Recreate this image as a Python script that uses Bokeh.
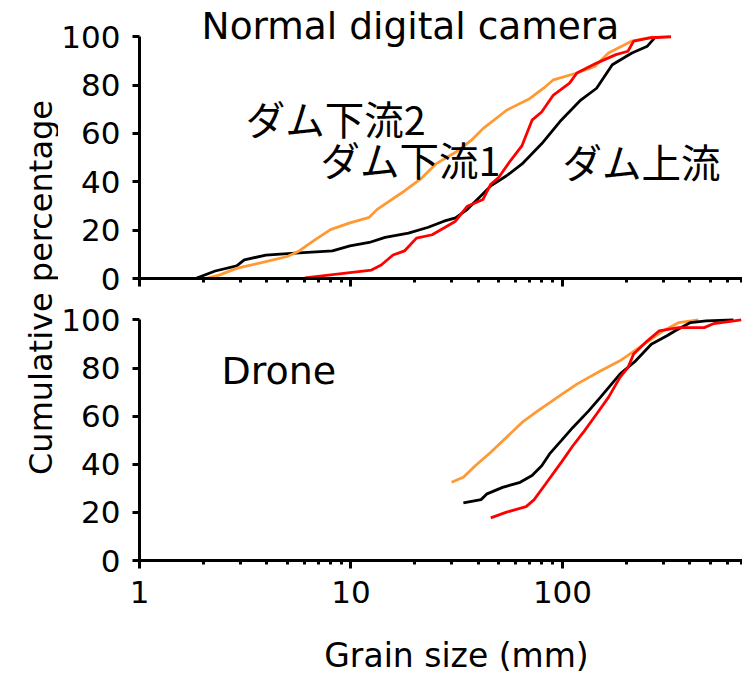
import math
from bokeh.plotting import figure
from bokeh.layouts import row, column
from bokeh.models import Range1d, FixedTicker, Label, BasicTickFormatter, CustomLabelingPolicy
from bokeh.embed import file_html
from bokeh.resources import INLINE

# ---- data ----
X_TICKS = [1, 10, 100]
X_MINOR = [2, 3, 4, 5, 6, 7, 8, 9, 20, 30, 40, 50, 60, 70, 80, 90, 200, 300, 400, 500, 600, 700]
Y_TICKS = [0, 20, 40, 60, 80, 100]

# Normal digital camera
cam_up_x = [1.84, 2.28, 2.88, 3.13, 3.96, 5.22, 8.17, 9.89, 12.2, 14.5, 18.7, 23.2, 27.5, 31.2, 35.5,
            40.3, 45.8, 54.4, 64.4, 79.7, 98.6, 122, 145, 172, 213, 252, 269, 274]
cam_up_y = [0, 3.1, 5.2, 7.7, 9.7, 10.4, 11.4, 13.5, 14.9, 17.0, 18.8, 21.2, 23.7, 25.1, 28.6,
            33.4, 38.3, 42.5, 47.4, 55.7, 65.5, 73.8, 78.7, 88.4, 93.3, 96.1, 98.9, 100]

cam_dn2_x = [2.05, 2.38, 2.88, 4.05, 5.0, 5.69, 6.75, 8.0, 9.89, 12.2, 13.3, 17.9, 21.3, 25.2, 31.2,
             37.0, 42.1, 54.4, 70.2, 83.2, 90.6, 117, 142, 165, 213, 269]
cam_dn2_y = [0, 1.4, 4.2, 7.2, 9.1, 11.4, 16.0, 20.2, 23.0, 25.3, 28.6, 36.2, 41.1, 47.4, 52.2,
             57.1, 62.0, 69.6, 74.5, 79.4, 82.2, 85.0, 87.7, 93.3, 98.2, 100]

cam_dn1_x = [6.06, 12.5, 13.9, 15.8, 17.9, 20.4, 24.2, 27.5, 31.2, 35.5, 42.1, 45.8, 49.9, 56.7, 64.4,
             71.8, 79.7, 90.6, 108, 117, 145, 179, 204, 217, 263, 326]
cam_dn1_y = [0.3, 3.5, 5.6, 9.7, 11.4, 16.7, 18.1, 20.9, 23.7, 29.9, 32.7, 39.0, 41.8, 48.7, 55.0,
             65.5, 68.9, 75.9, 80.8, 85.0, 89.1, 92.6, 94.0, 98.2, 99.6, 100]

# Drone
dr_dn2_x = [29.9, 34.0, 38.7, 45.8, 54.4, 64.4, 76.4, 94.6, 117, 151, 187, 213, 263, 299, 355, 439]
dr_dn2_y = [32.5, 34.6, 39.4, 45.0, 51.2, 57.4, 62.2, 67.8, 73.3, 78.8, 83.0, 86.4, 92.0, 95.4, 98.9, 100]

dr_up_x = [34.0, 41.2, 44.0, 52.1, 63.1, 71.8, 79.8, 86.9, 98.7, 112, 133, 151, 187, 222, 263, 312,
           340, 403, 478, 643]
dr_up_y = [23.9, 25.3, 27.7, 30.4, 32.5, 35.3, 39.4, 44.3, 49.8, 55.3, 62.2, 67.8, 77.5, 83.0, 89.9,
           93.4, 95.4, 98.9, 99.6, 100]

dr_dn1_x = [45.8, 54.4, 67.3, 73.3, 83.2, 98.7, 112, 127, 145, 165, 187, 204, 217, 252, 286, 354,
            468, 520, 700]
dr_dn1_y = [17.7, 20.1, 22.4, 25.2, 31.8, 40.8, 47.7, 53.9, 60.9, 67.8, 76.1, 80.2, 85.8, 91.3, 95.4,
            96.8, 96.8, 98.5, 100]

BLACK = "#000000"
RED = "#FF0000"
ORANGE = "#FF9933"
FONT = "DejaVu Sans"
JFONT = "Noto Sans CJK JP"
LW = 2.8


def style(p):
    p.outline_line_color = None
    p.grid.visible = False
    p.background_fill_color = "white"
    p.border_fill_color = "white"


def panel(height, y_end, top, bottom, show_labels):
    p = figure(x_axis_type="log", x_range=Range1d(1, 710), y_range=Range1d(0, y_end),
               width=684, height=height, min_border_left=81, min_border_right=0,
               min_border_top=top, min_border_bottom=bottom,
               output_backend="svg", toolbar_location=None)
    style(p)

    ya = p.yaxis[0]
    ya.ticker = FixedTicker(ticks=Y_TICKS)
    ya.bounds = (0, 100)
    ya.axis_line_width = 3
    ya.major_tick_line_width = 3
    ya.major_tick_out = 7
    ya.major_tick_in = 0
    ya.minor_tick_line_color = None
    ya.major_label_text_font = FONT
    ya.major_label_text_font_size = "31px"
    ya.major_label_text_color = "black"
    ya.major_label_standoff = 12

    xa = p.xaxis[0]
    xa.ticker = FixedTicker(ticks=X_TICKS, minor_ticks=X_MINOR)
    xa.formatter = BasicTickFormatter()
    xa.axis_line_width = 3
    xa.major_tick_line_width = 3
    xa.major_tick_out = 8
    xa.major_tick_in = 0
    xa.minor_tick_line_width = 3
    xa.minor_tick_out = 4
    xa.minor_tick_in = 0
    xa.major_label_text_font = FONT
    xa.major_label_text_color = "black"
    if show_labels:
        xa.major_label_text_font_size = "31px"
        xa.major_label_standoff = 12
    else:
        xa.major_label_text_font_size = "1px"
        xa.major_label_standoff = 0
        xa.major_label_policy = CustomLabelingPolicy(
            code="for (const i of indices) { indices.unset(i) }\nreturn indices")
    return p


def note(x, y, text, font, size):
    return Label(x=x, y=y, text=text, text_font=font, text_font_size=size,
                 text_align="left", text_baseline="middle", text_color="black")


# top panel: frame spans page y 0..278, y=100 at the axis top
top = panel(300, 115, 0, 22, False)
top.line(cam_up_x, cam_up_y, line_color=BLACK, line_width=LW)
top.line(cam_dn2_x, cam_dn2_y, line_color=ORANGE, line_width=LW)
top.line(cam_dn1_x, cam_dn1_y, line_color=RED, line_width=LW)
top.add_layout(Label(x=19.1, y=104.5, text="Normal digital camera", text_font=FONT,
                     text_font_size="37.5px", text_align="center", text_baseline="middle",
                     text_color="black"))
top.add_layout(note(3.18, 66.6, "ダム下流2", JFONT, "39.5px"))
top.add_layout(note(7.18, 49.6, "ダム下流1", JFONT, "39.5px"))
top.add_layout(note(100, 49.0, "ダム上流", JFONT, "39.5px"))

bot = panel(320, 101, 17, 60, True)
bot.line(dr_dn2_x, dr_dn2_y, line_color=ORANGE, line_width=LW)
bot.line(dr_up_x, dr_up_y, line_color=BLACK, line_width=LW)
bot.line(dr_dn1_x, dr_dn1_y, line_color=RED, line_width=LW)
bot.add_layout(note(2.44, 78.8, "Drone", FONT, "38px"))

# strip below the panels for the x-axis title (frame aligned with the panels' frames)
xlab = figure(width=684, height=57, x_range=Range1d(0, 603), y_range=Range1d(0, 57),
              min_border_left=81, min_border_right=0, min_border_top=0, min_border_bottom=0,
              x_axis_location=None, y_axis_location=None,
              output_backend="svg", toolbar_location=None)
style(xlab)
xlab.add_layout(Label(x=317, y=22.5, text="Grain size (mm)", text_font=FONT,
                      text_font_size="33px", text_align="center", text_baseline="middle",
                      text_color="black"))

# strip at the left for the shared y-axis title
ylab = figure(width=58, height=677, x_range=Range1d(0, 58), y_range=Range1d(0, 677),
              min_border=0, x_axis_location=None, y_axis_location=None,
              output_backend="svg", toolbar_location=None)
style(ylab)
ylab.add_layout(Label(x=40, y=390, text="Cumulative percentage", angle=math.pi / 2,
                      text_font=FONT, text_font_size="32px", text_align="center",
                      text_baseline="middle", text_color="black"))

layout = row(ylab, column(top, bot, xlab, spacing=0), spacing=0)
open("out.html", "w").write(file_html(layout, INLINE))
